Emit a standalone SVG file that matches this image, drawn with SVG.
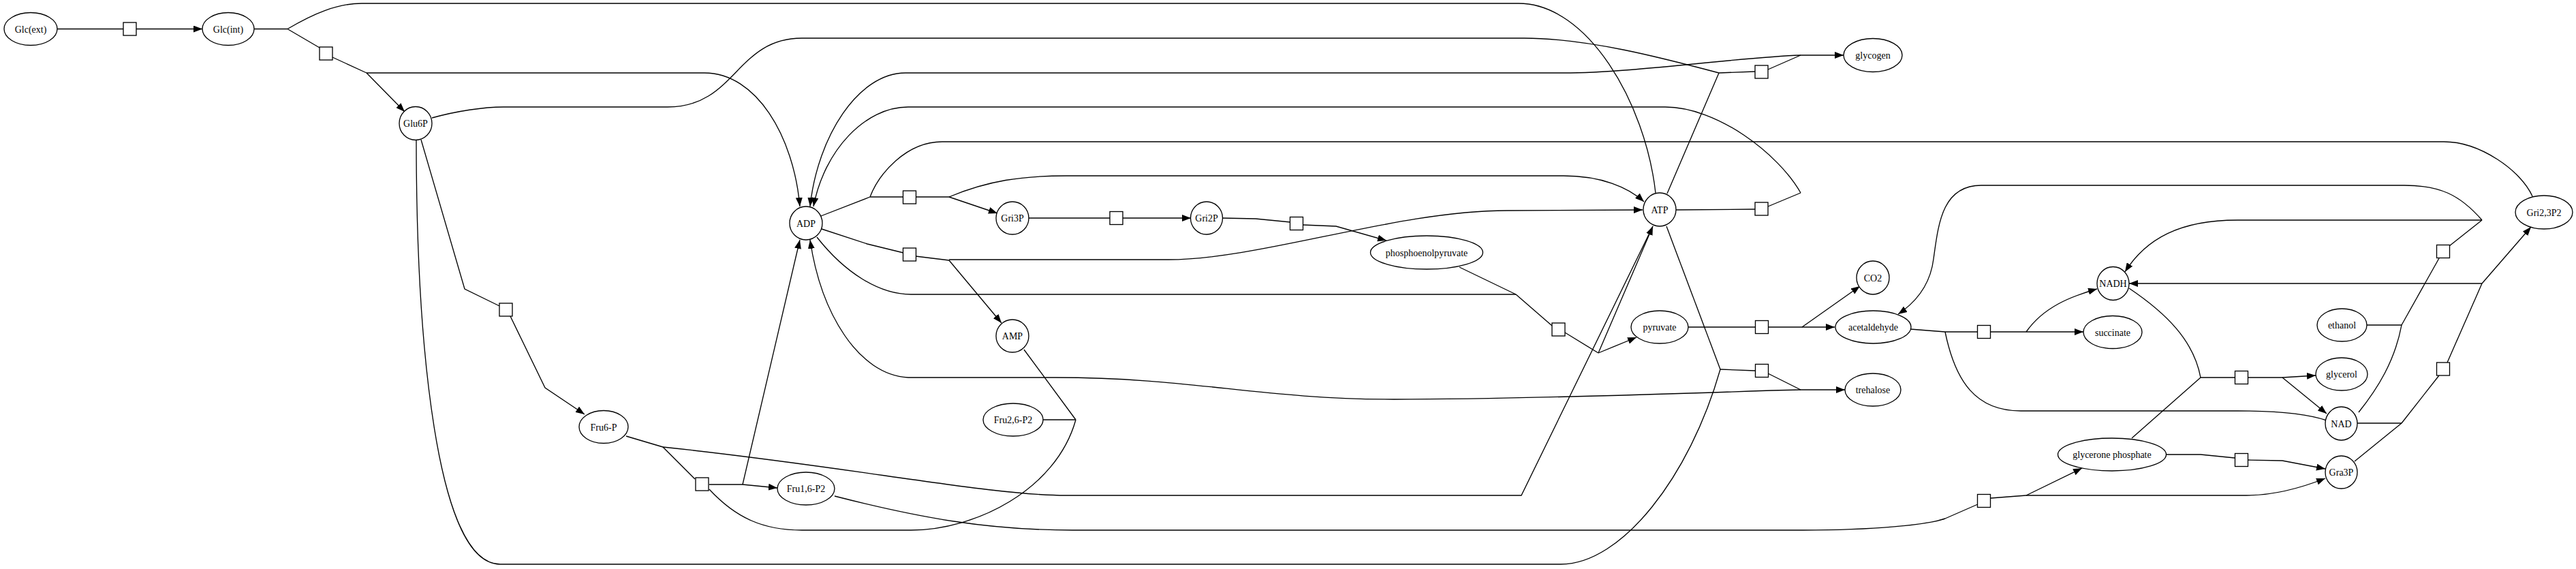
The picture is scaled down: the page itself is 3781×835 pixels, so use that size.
<svg xmlns="http://www.w3.org/2000/svg" width="3781" height="835" viewBox="0 0 3781 835">
<style>
.e{fill:none;stroke:#000;stroke-width:1.33}
.a{marker-end:url(#arr)}
.n ellipse{fill:#fff;stroke:#000;stroke-width:1.33}
.r rect{fill:#fff;stroke:#000;stroke-width:1.33}
text{font-family:"Liberation Serif","Times New Roman",serif;font-size:14px;text-anchor:middle;fill:#000}
</style>
<defs>
<marker id="arr" markerWidth="13" markerHeight="10" refX="13" refY="5" orient="auto" markerUnits="userSpaceOnUse"><path d="M0,0 L13,5 L0,10 z" fill="#000"/></marker>
</defs>
<rect width="3781" height="835" fill="#fff"/>
<g id="connectors">
<!-- Glc transport -->
<path class="e" d="M84,42.5 L181,42.5"/>
<path class="e a" d="M200,42.5 L297,42.5"/>
<!-- hexokinase -->
<path class="e" d="M373,42.5 L422,42.5"/>
<path class="e" d="M2430,283 C2415,150 2330,5 2229,5 L531,5 C495,5 460,20 422,42.5"/>
<path class="e" d="M422,42.5 L469,70"/>
<path class="e" d="M488,84 L538,107"/>
<path class="e a" d="M538,107 L594,164"/>
<path class="e a" d="M538,107 L1034,107 C1110,107 1165,200 1174,303"/>
<!-- PGI -->
<path class="e" d="M618,205 L682,424 L733,449"/>
<path class="e a" d="M749,464 L800,569 L858,608"/>
<!-- PFK -->
<path class="e" d="M919,640 L973,656"/>
<path class="e" d="M973,656 C1250,685 1450,727 1565,727 L2233,727 L2426,332"/>
<path class="e" d="M973,656 L1020,703"/>
<path class="e" d="M1041,711 L1090,711"/>
<path class="e a" d="M1090,711 L1141,716"/>
<path class="e a" d="M1090,711 L1174,352"/>
<path class="e" d="M1041,718 C1080,760 1120,778 1177,778 L1337,778 C1430,778 1550,720 1579,616"/>
<path class="e" d="M1503,513 L1579,616"/>
<path class="e" d="M1531,616 L1579,616"/>
<!-- PGK -->
<path class="e" d="M1205,317 L1277,289"/>
<path class="e" d="M3717,288 C3700,250 3640,208 3587,208 L1383,208 C1330,208 1290,255 1277,289"/>
<path class="e" d="M1277,289 L1326,289"/>
<path class="e" d="M1344,289 L1393,289"/>
<path class="e a" d="M1393,289 L1464,313"/>
<path class="e a" d="M1393,289 C1450,265 1500,258 1565,258 L2295,258 C2350,258 2390,275 2413,296"/>
<!-- adenylate kinase -->
<path class="e" d="M1206,336 L1273,358 L1326,371"/>
<path class="e" d="M1344,376 L1393,382"/>
<path class="e a" d="M1393,382 L1470,474"/>
<path class="e a" d="M1393,381 L1715,381 C1850,381 2050,309 2212,309 L2411,308"/>
<!-- PGM / enolase -->
<path class="e" d="M1510,320 L1629,320"/>
<path class="e a" d="M1648,320 L1748,320"/>
<path class="e" d="M1794,320 L1843,321 L1894,326"/>
<path class="e a" d="M1912,330 L1961,332 L2035,353"/>
<!-- pyruvate kinase -->
<path class="e" d="M1199,348 C1240,400 1290,432 1337,432 L2225,432"/>
<path class="e" d="M2142,392 L2225,432"/>
<path class="e" d="M2225,432 L2278,478"/>
<path class="e" d="M2297,488 L2346,518"/>
<path class="e a" d="M2346,518 L2402,495"/>
<path class="e a" d="M2346,518 L2426,332"/>
<!-- glycogen -->
<path class="e" d="M634,173 C670,163 710,157 739,157 L980,157 C1080,157 1080,56 1177,56 L2237,56 C2330,56 2440,85 2523,107"/>
<path class="e" d="M2447,284 L2523,107"/>
<path class="e" d="M2523,107 L2576,105"/>
<path class="e" d="M2595,102 L2643,81"/>
<path class="e a" d="M2643,81 L2706,81"/>
<path class="e a" d="M2643,81 C2550,84 2400,107 2295,107 L1329,107 C1260,107 1200,200 1189,303"/>
<!-- ATPase -->
<path class="e" d="M2460,308 L2576,307"/>
<path class="e" d="M2595,303 L2643,283"/>
<path class="e a" d="M2643,283 C2610,225 2520,157 2444,157 L1333,157 C1270,157 1210,220 1194,303"/>
<!-- PDC -->
<path class="e" d="M2478,480 L2576,480"/>
<path class="e" d="M2595,480 L2645,480"/>
<path class="e a" d="M2645,480 L2693,480"/>
<path class="e a" d="M2645,480 L2730,420"/>
<!-- trehalose -->
<path class="e" d="M611,205 C611,500 640,828 734,828 L2291,828 C2380,828 2480,700 2525,542"/>
<path class="e" d="M2446,332 L2525,542"/>
<path class="e" d="M2525,542 L2576,544"/>
<path class="e" d="M2595,548 L2643,572"/>
<path class="e a" d="M2643,572 L2708,572"/>
<path class="e a" d="M2643,572 L2600,573 C2400,580 2200,586 2046,586 C1850,586 1750,554 1549,554 L1333,554 C1260,550 1205,460 1189,352"/>
<!-- succinate -->
<path class="e" d="M2804,483 L2855,487"/>
<path class="e" d="M3415,617 C3380,605 3330,603 3284,603 L2966,603 C2900,603 2870,560 2855,487"/>
<path class="e" d="M2855,487 L2903,487"/>
<path class="e" d="M2922,487 L2974,487"/>
<path class="e a" d="M2974,487 L3058,487"/>
<path class="e a" d="M2974,487 C3000,450 3040,435 3078,424"/>
<!-- aldolase -->
<path class="e" d="M1225,728 C1350,760 1450,778 1574,778 L2647,778 C2750,778 2830,770 2855,761 L2903,740"/>
<path class="e" d="M2922,731 L2974,727"/>
<path class="e a" d="M2974,727 L3056,687"/>
<path class="e a" d="M2974,727 L3297,727 C3340,727 3380,715 3413,702"/>
<!-- glycerol -->
<path class="e" d="M3125,423 C3180,460 3220,500 3230,554"/>
<path class="e" d="M3129,643 L3230,554"/>
<path class="e" d="M3230,554 L3280,554"/>
<path class="e" d="M3299,554 L3350,554"/>
<path class="e a" d="M3350,554 L3399,551"/>
<path class="e a" d="M3350,554 L3415,607"/>
<!-- TPI -->
<path class="e" d="M3180,667 L3230,667 L3280,672"/>
<path class="e a" d="M3299,675 L3350,676 L3413,688"/>
<!-- ADH -->
<path class="e" d="M3474,477 L3525,477"/>
<path class="e" d="M3462,605 C3490,570 3515,530 3525,477"/>
<path class="e" d="M3525,477 L3580,379"/>
<path class="e" d="M3595,361 L3643,323"/>
<path class="e a" d="M3643,323 L3284,323 C3200,323 3150,350 3119,399"/>
<path class="e a" d="M3643,323 C3610,285 3580,272 3529,272 L2908,272 C2850,272 2845,330 2838,380 C2833,420 2810,445 2786,461"/>
<!-- GAPDH -->
<path class="e" d="M3456,677 L3525,621"/>
<path class="e" d="M3460,621 L3525,621"/>
<path class="e" d="M3525,621 L3580,551"/>
<path class="e" d="M3592,532 L3643,416"/>
<path class="e a" d="M3643,416 L3125,416"/>
<path class="e a" d="M3643,416 L3715,333"/>
</g>
<g id="Glc_ext" class="n"><ellipse cx="45" cy="42.5" rx="39" ry="24"/><text x="45" y="47.5">Glc(ext)</text></g>
<g id="Glc_int" class="n"><ellipse cx="335" cy="42.5" rx="38" ry="24"/><text x="335" y="47.5">Glc(int)</text></g>
<g id="Glu6P" class="n"><ellipse cx="610" cy="181" rx="24" ry="24.5"/><text x="610" y="186">Glu6P</text></g>
<g id="ADP" class="n"><ellipse cx="1183" cy="327.5" rx="24" ry="24.5"/><text x="1183" y="332.5">ADP</text></g>
<g id="Gri3P" class="n"><ellipse cx="1486" cy="320" rx="24" ry="24"/><text x="1486" y="325">Gri3P</text></g>
<g id="Gri2P" class="n"><ellipse cx="1771" cy="320" rx="23.5" ry="24"/><text x="1771" y="325">Gri2P</text></g>
<g id="phosphoenolpyruvate" class="n"><ellipse cx="2094" cy="370.5" rx="82.5" ry="24.5"/><text x="2094" y="375.5">phosphoenolpyruvate</text></g>
<g id="ATP" class="n"><ellipse cx="2436" cy="307.5" rx="24" ry="24.5"/><text x="2436" y="312.5">ATP</text></g>
<g id="AMP" class="n"><ellipse cx="1486" cy="493" rx="24" ry="24"/><text x="1486" y="498">AMP</text></g>
<g id="Fru26P2" class="n"><ellipse cx="1487" cy="616" rx="44" ry="24"/><text x="1487" y="621">Fru2,6-P2</text></g>
<g id="Fru6P" class="n"><ellipse cx="886" cy="626.5" rx="36" ry="24"/><text x="886" y="631.5">Fru6-P</text></g>
<g id="Fru16P2" class="n"><ellipse cx="1183" cy="717" rx="42" ry="24"/><text x="1183" y="722">Fru1,6-P2</text></g>
<g id="pyruvate" class="n"><ellipse cx="2436" cy="480" rx="42" ry="24"/><text x="2436" y="485">pyruvate</text></g>
<g id="CO2" class="n"><ellipse cx="2749" cy="407.5" rx="24" ry="24.5"/><text x="2749" y="412.5">CO2</text></g>
<g id="acetaldehyde" class="n"><ellipse cx="2749.5" cy="480" rx="55.5" ry="24"/><text x="2749.5" y="485">acetaldehyde</text></g>
<g id="trehalose" class="n"><ellipse cx="2749" cy="572" rx="41" ry="24"/><text x="2749" y="577">trehalose</text></g>
<g id="glycogen" class="n"><ellipse cx="2749" cy="81" rx="43" ry="24.5"/><text x="2749" y="86">glycogen</text></g>
<g id="NADH" class="n"><ellipse cx="3101.5" cy="416" rx="23.5" ry="24.5"/><text x="3101.5" y="421">NADH</text></g>
<g id="succinate" class="n"><ellipse cx="3101" cy="487.5" rx="43" ry="24"/><text x="3101" y="492.5">succinate</text></g>
<g id="glycerone_phosphate" class="n"><ellipse cx="3100" cy="667" rx="79.5" ry="24"/><text x="3100" y="672">glycerone phosphate</text></g>
<g id="ethanol" class="n"><ellipse cx="3437.5" cy="477" rx="36.5" ry="24"/><text x="3437.5" y="482">ethanol</text></g>
<g id="glycerol" class="n"><ellipse cx="3437" cy="549" rx="38" ry="24"/><text x="3437" y="554">glycerol</text></g>
<g id="NAD" class="n"><ellipse cx="3436.5" cy="621.5" rx="23.5" ry="24.5"/><text x="3436.5" y="626.5">NAD</text></g>
<g id="Gra3P" class="n"><ellipse cx="3436.5" cy="693" rx="23.5" ry="24"/><text x="3436.5" y="698">Gra3P</text></g>
<g id="Gri23P2" class="n"><ellipse cx="3734" cy="311.5" rx="42" ry="24.5"/><text x="3734" y="316.5">Gri2,3P2</text></g>
<g id="r1" class="r"><rect x="181" y="33" width="19" height="19"/></g>
<g id="r2" class="r"><rect x="469" y="69" width="19" height="19"/></g>
<g id="r3" class="r"><rect x="733" y="445" width="19" height="19"/></g>
<g id="r4" class="r"><rect x="1021" y="701" width="19" height="19"/></g>
<g id="r5" class="r"><rect x="1325.5" y="280" width="19" height="19"/></g>
<g id="r6" class="r"><rect x="1325.5" y="364" width="19" height="19"/></g>
<g id="r7" class="r"><rect x="1629" y="310.5" width="19" height="19"/></g>
<g id="r8" class="r"><rect x="1893.5" y="318.5" width="19" height="19"/></g>
<g id="r9" class="r"><rect x="2278" y="474" width="19" height="19"/></g>
<g id="r10" class="r"><rect x="2576" y="96" width="19" height="19"/></g>
<g id="r11" class="r"><rect x="2576" y="297" width="19" height="19"/></g>
<g id="r12" class="r"><rect x="2576.5" y="470.5" width="19" height="19"/></g>
<g id="r13" class="r"><rect x="2576.5" y="534.5" width="19" height="19"/></g>
<g id="r14" class="r"><rect x="2902.5" y="477.5" width="19" height="19"/></g>
<g id="r15" class="r"><rect x="2902.5" y="725.5" width="19" height="19"/></g>
<g id="r16" class="r"><rect x="3280.5" y="544.5" width="19" height="19"/></g>
<g id="r17" class="r"><rect x="3280.5" y="665.5" width="19" height="19"/></g>
<g id="r18" class="r"><rect x="3576.5" y="359.5" width="19" height="19"/></g>
<g id="r19" class="r"><rect x="3576.5" y="532" width="19" height="19"/></g>
</svg>
